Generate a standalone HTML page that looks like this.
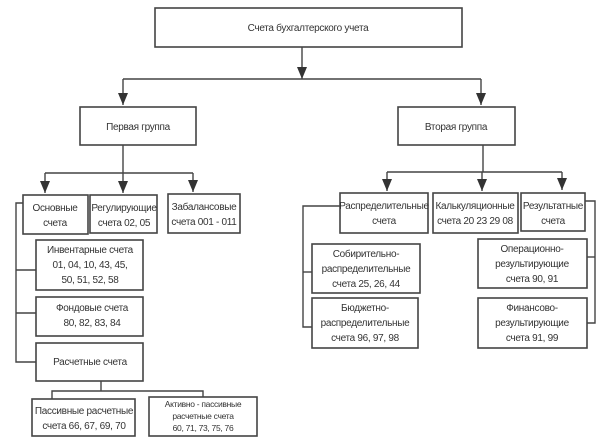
<!DOCTYPE html>
<html><head><meta charset="utf-8"><style>
html,body{margin:0;padding:0;background:#fff;}
svg{display:block;}
text{font-family:"Liberation Sans",sans-serif;font-size:10px;fill:#333;text-anchor:middle;letter-spacing:-0.3px;}
rect{fill:#fff;stroke:#444;stroke-width:1.6;}
line,polyline{stroke:#444;stroke-width:1.4;fill:none;}
.ar{fill:#333;stroke:none;}
</style></head><body>
<svg width="612" height="443" viewBox="0 0 612 443">
<!-- top -->
<rect x="155" y="8" width="307" height="39"/>
<text x="308" y="31">Счета бухгалтерского учета</text>
<line x1="302" y1="47" x2="302" y2="79"/>
<polygon class="ar" points="297,67 307,67 302,79"/>
<line x1="123" y1="79" x2="481" y2="79"/>
<line x1="123" y1="79" x2="123" y2="105"/>
<polygon class="ar" points="118,93 128,93 123,105"/>
<line x1="481" y1="79" x2="481" y2="105"/>
<polygon class="ar" points="476,93 486,93 481,105"/>
<rect x="80" y="107" width="116" height="38"/>
<text x="138" y="130">Первая группа</text>
<rect x="398" y="107" width="117" height="38"/>
<text x="456" y="130">Вторая группа</text>
<!-- left group -->
<line x1="123" y1="145" x2="123" y2="173"/>
<line x1="45" y1="173" x2="193" y2="173"/>
<line x1="45" y1="173" x2="45" y2="193"/>
<polygon class="ar" points="40,181 50,181 45,193"/>
<line x1="123" y1="173" x2="123" y2="193"/>
<polygon class="ar" points="118,181 128,181 123,193"/>
<line x1="193" y1="173" x2="193" y2="192"/>
<polygon class="ar" points="188,180 198,180 193,192"/>
<rect x="23" y="195" width="65" height="39"/>
<text x="55" y="211">Основные</text><text x="55" y="226">счета</text>
<rect x="90" y="195" width="67" height="38"/>
<text x="124" y="211">Регулирующие</text><text x="124" y="226">счета 02, 05</text>
<rect x="168" y="194" width="72" height="39"/>
<text x="204" y="210">Забалансовые</text><text x="204" y="225">счета 001 - 011</text>
<polyline points="23,203 16,203 16,362 36,362"/>
<line x1="16" y1="270" x2="36" y2="270"/>
<line x1="16" y1="313" x2="36" y2="313"/>
<rect x="36" y="240" width="107" height="50"/>
<text x="90" y="253">Инвентарные счета</text><text x="90" y="268">01, 04, 10, 43, 45,</text><text x="90" y="283">50, 51, 52, 58</text>
<rect x="36" y="297" width="107" height="39"/>
<text x="92" y="311">Фондовые счета</text><text x="92" y="326">80, 82, 83, 84</text>
<rect x="36" y="343" width="107" height="38"/>
<text x="90" y="365">Расчетные счета</text>
<line x1="101" y1="381" x2="101" y2="391"/>
<polyline points="52,399 52,391 203,391 203,397"/>
<rect x="32" y="399" width="103" height="37"/>
<text x="84" y="414">Пассивные расчетные</text><text x="84" y="429">счета 66, 67, 69, 70</text>
<rect x="149" y="397" width="108" height="39"/>
<text x="203" y="407" style="font-size:8.5px">Активно - пассивные</text><text x="203" y="419" style="font-size:8.5px">расчетные счета</text><text x="203" y="431" style="font-size:8.5px">60, 71, 73, 75, 76</text>
<!-- right group -->
<line x1="483" y1="145" x2="483" y2="172"/>
<line x1="387" y1="172" x2="562" y2="172"/>
<line x1="387" y1="172" x2="387" y2="191"/>
<polygon class="ar" points="382,179 392,179 387,191"/>
<line x1="482" y1="172" x2="482" y2="191"/>
<polygon class="ar" points="477,179 487,179 482,191"/>
<line x1="562" y1="172" x2="562" y2="190"/>
<polygon class="ar" points="557,178 567,178 562,190"/>
<rect x="340" y="193" width="88" height="40"/>
<text x="384" y="209">Распределительные</text><text x="384" y="224">счета</text>
<rect x="433" y="193" width="85" height="40"/>
<text x="475" y="209">Калькуляционные</text><text x="475" y="224">счета 20 23 29 08</text>
<rect x="521" y="193" width="64" height="38"/>
<text x="553" y="209">Результатные</text><text x="553" y="224">счета</text>
<polyline points="340,206 303,206 303,327 312,327"/>
<line x1="303" y1="272" x2="312" y2="272"/>
<rect x="312" y="244" width="108" height="49"/>
<text x="366" y="257">Собирительно-</text><text x="366" y="272">распределительные</text><text x="366" y="287">счета 25, 26, 44</text>
<rect x="312" y="298" width="106" height="50"/>
<text x="365" y="311">Бюджетно-</text><text x="365" y="326">распределительные</text><text x="365" y="341">счета 96, 97, 98</text>
<polyline points="585,201 595,201 595,323 587,323"/>
<line x1="587" y1="257" x2="595" y2="257"/>
<rect x="478" y="239" width="109" height="49"/>
<text x="532" y="252">Операционно-</text><text x="532" y="267">результирующие</text><text x="532" y="282">счета 90, 91</text>
<rect x="478" y="298" width="109" height="50"/>
<text x="532" y="311">Финансово-</text><text x="532" y="326">результирующие</text><text x="532" y="341">счета 91, 99</text>
</svg>
</body></html>
